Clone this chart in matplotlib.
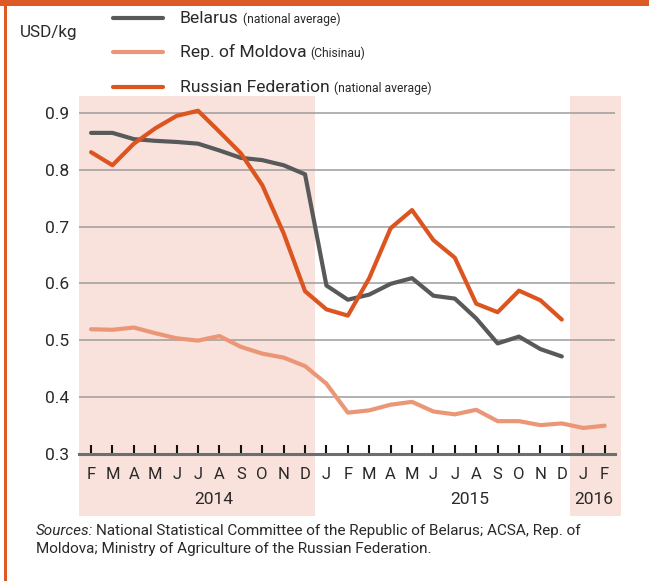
import matplotlib
matplotlib.use("Agg")
import matplotlib.pyplot as plt
from matplotlib.patches import Rectangle
from matplotlib.lines import Line2D

plt.rcParams['font.family'] = ['Roboto', 'DejaVu Sans']
plt.rcParams['font.weight'] = 'normal'

# ---- data ----
month_labels = ["F", "M", "A", "M", "J", "J", "A", "S", "O", "N", "D",
                "J", "F", "M", "A", "M", "J", "J", "A", "S", "O", "N", "D",
                "J", "F"]
year_labels = ["2014", "2015", "2016"]
year_positions = [5.75, 17.7, 23.5]

belarus = [0.865, 0.865, 0.854, 0.851, 0.849, 0.846, 0.834, 0.821, 0.817, 0.808, 0.792,
           0.596, 0.571, 0.580, 0.599, 0.609, 0.578, 0.573, 0.538, 0.494, 0.506, 0.484, 0.471]
moldova = [0.519, 0.518, 0.522, 0.512, 0.503, 0.499, 0.507, 0.488, 0.476, 0.469, 0.454,
           0.423, 0.372, 0.376, 0.386, 0.391, 0.374, 0.369, 0.377, 0.357, 0.357, 0.350, 0.353,
           0.345, 0.349]
russia = [0.831, 0.808, 0.846, 0.873, 0.895, 0.904, 0.867, 0.829, 0.773, 0.688, 0.586,
          0.554, 0.543, 0.609, 0.697, 0.729, 0.676, 0.645, 0.564, 0.549, 0.587, 0.570, 0.536]

series_names = ["Belarus", "Rep. of Moldova", "Russian Federation"]
series_notes = ["(national average)", "(Chisinau)", "(national average)"]
yticks = [0.3, 0.4, 0.5, 0.6, 0.7, 0.8, 0.9]

# ---- style ----
C_BEL = "#58595b"
C_MOL = "#eb9677"
C_RUS = "#dc5520"
C_SHADE = "#f8e2db"
C_FRAME = "#dd5a27"
C_GRID = "#9d9d9d"
C_TXT = "#2b2829"

W, H = 649, 582
fig = plt.figure(figsize=(W / 100, H / 100), dpi=100)
fig.patch.set_facecolor("white")

ax_left, ax_right, ax_top, ax_bottom = 79.3, 615.3, 96.0, 453.5
ax = fig.add_axes([ax_left / W, (H - ax_bottom) / H,
                   (ax_right - ax_left) / W, (ax_bottom - ax_top) / H])
ax.set_facecolor("none")
ax.set_xlim(-0.55, 24.5)
ax.set_ylim(0.3, 0.930)

trans = ax.get_xaxis_transform()
for x0, x1 in [(-0.55, 10.47), (22.4, 24.77)]:
    ax.add_patch(Rectangle((x0, -0.175), x1 - x0, 1.175, transform=trans,
                           facecolor=C_SHADE, edgecolor="none", clip_on=False, zorder=0))

for y in yticks[1:]:
    ax.axhline(y, color=C_GRID, lw=1.1, zorder=1)

lw = 3.0
ax.plot(range(len(moldova)), moldova, color=C_MOL, lw=lw, solid_capstyle="round",
        solid_joinstyle="round", zorder=3)
ax.plot(range(len(belarus)), belarus, color=C_BEL, lw=lw, solid_capstyle="round",
        solid_joinstyle="round", zorder=4)
ax.plot(range(len(russia)), russia, color=C_RUS, lw=lw, solid_capstyle="round",
        solid_joinstyle="round", zorder=5)

for s in ["top", "right", "left"]:
    ax.spines[s].set_visible(False)
ax.spines["bottom"].set_color("#6d6e70")
ax.spines["bottom"].set_linewidth(2.2)
ax.spines["bottom"].set_zorder(6)

ax.set_xticks(range(len(month_labels)))
ax.set_xticklabels(month_labels, fontsize=12, color=C_TXT)
ax.tick_params(axis="x", direction="in", length=6.5, width=1.5, color="#111111", pad=10)
ax.set_yticks(yticks)
ax.set_yticklabels([f"{v:.1f}" for v in yticks], fontsize=12.5, color=C_TXT)
ax.tick_params(axis="y", length=0, pad=7.5)

for lab, xp in zip(year_labels, year_positions):
    ax.text(xp, -0.128, lab, transform=trans, ha="center", va="center",
            fontsize=12.5, color=C_TXT)

# ---- legend (manual) ----
def fy(py):
    return (H - py) / H

fig.text(20 / W, fy(36.7), "USD/kg", fontsize=12.3, color=C_TXT, va="baseline")

colors = [C_BEL, C_MOL, C_RUS]
handle_y = [18.3, 52.3, 87.3]
baselines = [23.3, 57.5, 91.8]
renderer = fig.canvas.get_renderer()
for name, note, c, hy, by in zip(series_names, series_notes, colors, handle_y, baselines):
    fig.add_artist(Line2D([113 / W, 163 / W], [fy(hy), fy(hy)], color=c, lw=3.0,
                          solid_capstyle="round", transform=fig.transFigure))
    t = fig.text(180 / W, fy(by), name, fontsize=12.6, color=C_TXT, va="baseline")
    bb = t.get_window_extent(renderer=renderer)
    fig.text((bb.x1 + 4) / W, fy(by), note, fontsize=8.7, color=C_TXT, va="baseline")

# ---- sources ----
t1 = fig.text(36 / W, fy(535), "Sources:", fontsize=11.0, style="italic",
              color=C_TXT, va="baseline")
bb = t1.get_window_extent(renderer=renderer)
fig.text((bb.x1 + 3) / W, fy(535),
         "National Statistical Committee of the Republic of Belarus; ACSA, Rep. of",
         fontsize=11.0, color=C_TXT, va="baseline")
fig.text(36 / W, fy(553.5),
         "Moldova; Ministry of Agriculture of the Russian Federation.",
         fontsize=11.0, color=C_TXT, va="baseline")

# ---- frame ----
fig.add_artist(Rectangle((0, fy(5.5)), 1, 5.5 / H, transform=fig.transFigure,
                         facecolor=C_FRAME, edgecolor="none"))
fig.add_artist(Rectangle((4 / W, fy(581)), 3 / W, 581 / H, transform=fig.transFigure,
                         facecolor=C_FRAME, edgecolor="none"))

fig.savefig("out.png", dpi=100, facecolor="white")
